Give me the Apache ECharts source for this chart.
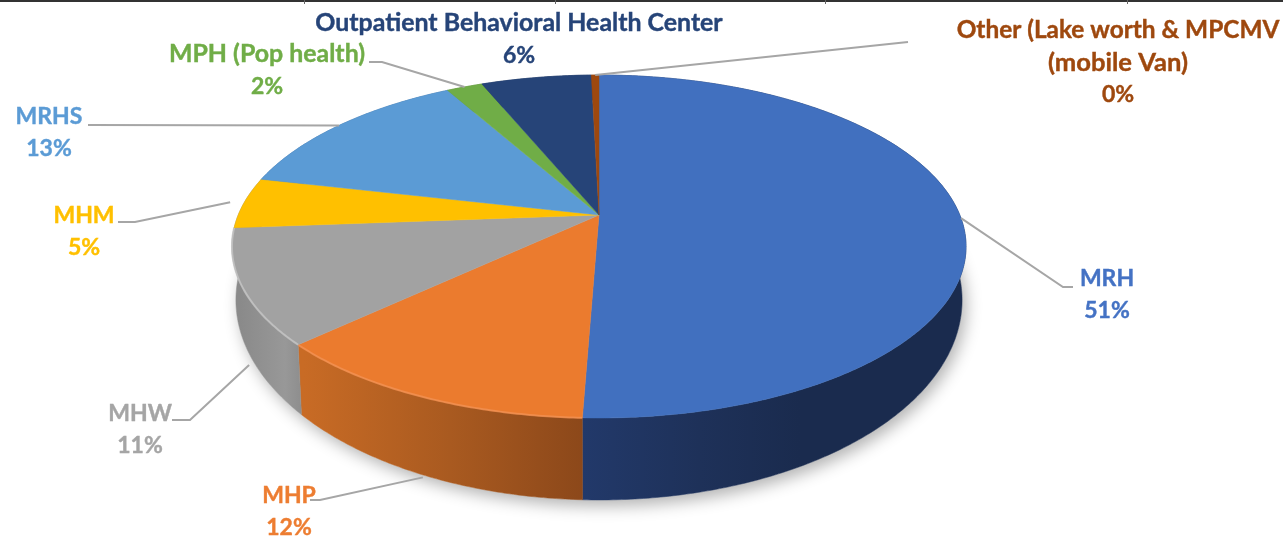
<!DOCTYPE html>
<html><head><meta charset="utf-8">
<style>html,body{margin:0;padding:0;background:#fff}#c{width:1283px;height:538px}</style>
<script src="https://cdn.jsdelivr.net/npm/echarts@6/dist/echarts.min.js"></script>
</head><body><div id="c"></div>
<script>
// ---- data ----
const categories = ['MRH','MHP','MHW','MHM','MRHS','MPH (Pop health)','Outpatient Behavioral Health Center','Other (Lake worth & MPCMV\n(mobile Van)'];
const values = [50.6, 12.4, 10.8, 4.8, 13.3, 1.9, 5.8, 0.4];
const topColors = ['#4170bf','#eb7b2e','#a2a2a2','#ffc000','#5b9bd5','#70ad47','#264478','#9e480e'];
const labelColors = ['#4472c4','#ed7d31','#a5a5a5','#ffc000','#5b9bd5','#70ad47','#264478','#9e480e'];
const edgeColors = [null,'#f39152','#c6c6c6',null,null,null,null,null];
const wallStops = [
  [[583,'#22396a'],[700,'#1e3159'],[800,'#1a2b4e'],[960,'#1a2b4e']],
  [[304,'#c86b25'],[450,'#a95a20'],[583,'#8c481a']],
  [[240,'#8a8a8a'],[285,'#989898'],[304,'#8c8c8c']],
  [[0,'#8a8a8a']],[[0,'#3f6f9f']],[[0,'#548235']],[[0,'#1c3359']],[[0,'#763608']]
];
// ---- layout ----
const topRing = {cx:599, cy:215, A:360.8, B:165.7, p:0.1837};
const baseRing = {cx:599, cy:263.3, A:356.9, B:193.2, p:0.1837};
const leaderBase = {cx:599, cy:290.5, A:354, B:171, p:0.1837};
const labelPos = [[1107,294.5],[289,511.5],[140,429.5],[84,231.5],[49,132.5],[267,70.5],[519,39],[1118,62.5]];
const nameSizes = [[23],[23],[23],[23],[23],[24.9],[24.9],[24.4,25.6]];
const pctSize = 23;
const lineGap = 32.5;
const leaderRing = [topRing,leaderBase,leaderBase,topRing,topRing,topRing,null,topRing];
const leaderFactor = [1,1,1,1.04,1,1,1,1];
const leaderElbows = [[[1063,287],[1073,287]],[[320,500],[310,500]],[[190,420],[172,420]],[[135,222],[118,222]],[[88,125]],[[382,62],[369,62]],[],[[908,42]]];
const topTicks = [304,555,825,1127];

const total = values.reduce((a,b)=>a+b,0);
const starts = []; values.reduce((a,v,i)=>(starts[i]=a, a+v),0);
const ang = v => v/total*Math.PI*2;
function proj(r,th,f){ f=f||1; const u=Math.sin(th)*f,v=Math.cos(th)*f,w=1+r.p*v;
  return [r.cx+r.A*u/w, r.cy-r.B*v/w]; }
function arc(r,a,b,rev){ const n=Math.max(2,Math.ceil((b-a)/0.01)),o=[];
  for(let i=0;i<=n;i++){ o.push(proj(r,a+(b-a)*i/n)); } return rev?o.reverse():o; }
function range(i){ const a=ang(starts[i]); return [a,a+ang(values[i])]; }
function grad(i){ const s=wallStops[i]; const x0=s[0][0],x1=s[s.length-1][0];
  if(s.length===1) return s[0][1];
  return new echarts.graphic.LinearGradient(x0,0,x1,0,s.map(d=>({offset:(d[0]-x0)/(x1-x0),color:d[1]})),true); }

const fam = 'Lato, "Open Sans", sans-serif';
const data = values.map(v=>[v]);
const option = {
  animation:false, backgroundColor:'#fff',
  graphic:[{type:'rect',shape:{x:0,y:0,width:1283,height:2},style:{fill:'#333'},silent:true}]
    .concat(topTicks.map(x=>({type:'rect',shape:{x:x,y:0,width:1,height:4},style:{fill:'#666'},silent:true}))),
  series:[
    {type:'custom',coordinateSystem:'none',z:1,silent:true,data:[[total]],
     renderItem(){ return {type:'polygon',shape:{points:arc(baseRing,0,Math.PI*2)},
        style:{fill:'#fff',shadowBlur:16,shadowColor:'rgba(0,0,0,0.3)',shadowOffsetX:4,shadowOffsetY:6}}; }},
    {type:'custom',coordinateSystem:'none',z:2,silent:true,data:data,
     renderItem(p){ const [a,b]=range(p.dataIndex);
       const c=grad(p.dataIndex);
       return {type:'polygon',shape:{points:arc(topRing,a,b).concat(arc(baseRing,a,b,true))},style:{fill:c,stroke:c,lineWidth:0.5}}; }},
    {type:'custom',coordinateSystem:'none',z:3,silent:true,data:data,
     renderItem(p){ const i=p.dataIndex,[a,b]=range(i);
       const kids=[{type:'polygon',shape:{points:[[topRing.cx,topRing.cy]].concat(arc(topRing,a,b))},
          style:{fill:topColors[i],stroke:topColors[i],lineWidth:0.5}}];
       if(edgeColors[i]) kids.push({type:'polyline',shape:{points:arc(topRing,a,b)},
          style:{fill:null,stroke:edgeColors[i],lineWidth:2,opacity:0.8}});
       return {type:'group',children:kids}; }},
    {type:'custom',coordinateSystem:'none',z:4,silent:true,data:data,
     renderItem(p){ const i=p.dataIndex,[a,b]=range(i),kids=[];
       if(leaderRing[i]) kids.push({type:'polyline',
          shape:{points:[proj(leaderRing[i],(a+b)/2,leaderFactor[i])].concat(leaderElbows[i])},
          style:{fill:null,stroke:'#a6a6a6',lineWidth:2}});
       const lines=categories[i].split('\n').concat(Math.round(values[i]/total*100)+'%');
       lines.forEach((t,k)=>{ const size=k<nameSizes[i].length?nameSizes[i][k]:pctSize;
         kids.push({type:'text',x:labelPos[i][0],y:labelPos[i][1]+(k-(lines.length-1)/2)*lineGap,
           style:{text:t,font:'bold '+size+'px '+fam,fill:labelColors[i],stroke:labelColors[i],lineWidth:0.4,
                  align:'center',verticalAlign:'middle'}}); });
       return {type:'group',children:kids}; }}
  ]
};
echarts.init(document.getElementById('c'),null,{renderer:'canvas'}).setOption(option);
</script></body></html>
